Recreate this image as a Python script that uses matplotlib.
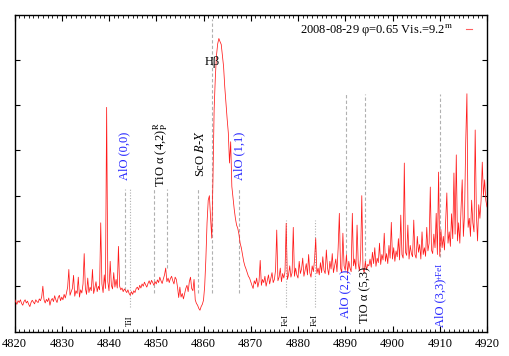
import numpy as np
import matplotlib
matplotlib.use("Agg")
import matplotlib.pyplot as plt

plt.rcParams['font.family'] = ['Liberation Serif', 'DejaVu Serif']
plt.rcParams['mathtext.fontset'] = 'stix'

# ---------------- data ----------------
wl_start, wl_step = 4820.0, 0.25
flux = [
    0.72,0.66,0.60,0.68,0.64,0.70,0.62,0.58,0.66,0.70,0.63,0.67,0.60,0.55,0.64,0.69,0.65,0.61,0.70,0.66,
    0.64,0.72,0.68,0.76,1.00,0.70,0.63,0.71,0.66,0.74,0.58,0.69,0.73,0.66,0.79,0.70,0.64,0.75,0.80,0.68,
    0.76,0.70,0.82,0.74,0.85,0.98,1.37,0.80,0.88,0.95,1.24,0.78,0.90,0.84,1.20,0.76,0.92,0.85,1.05,1.72,
    0.95,0.82,1.18,0.86,0.98,0.90,1.37,0.84,0.96,1.10,0.88,1.00,0.92,2.40,1.05,0.86,1.25,0.95,4.95,1.10,
    0.90,1.55,1.02,0.94,1.30,0.98,1.15,0.96,1.88,1.00,0.92,0.96,0.88,0.94,0.90,0.86,0.92,0.84,0.80,0.88,
    0.82,0.90,0.86,0.95,0.98,0.92,1.02,0.96,1.05,1.00,1.09,1.03,0.98,1.06,1.12,1.04,1.13,1.08,1.02,1.10,
    1.05,1.14,1.08,1.20,1.12,1.06,1.16,1.25,1.40,1.10,1.18,1.08,1.17,1.22,1.12,1.05,1.20,1.15,0.98,0.75,
    0.98,0.76,0.84,0.72,0.84,0.95,1.02,0.88,1.10,1.20,0.95,0.90,1.15,0.70,0.62,0.58,0.51,0.47,0.55,0.60,
    0.69,1.00,1.60,2.40,2.90,3.00,2.50,2.06,3.35,4.90,5.60,6.10,6.35,6.47,6.40,6.34,6.10,5.85,5.40,5.05,
    4.70,4.39,3.72,4.19,3.20,2.95,2.70,2.50,2.35,2.28,2.15,1.95,1.85,1.70,1.55,1.45,1.38,1.30,1.22,1.18,
    1.10,1.02,0.95,1.12,1.05,1.18,0.98,1.10,1.57,1.02,1.15,1.08,1.22,1.00,1.12,1.25,1.05,1.18,1.30,1.08,
    1.15,1.35,2.24,1.12,1.20,1.40,1.10,1.28,1.18,1.32,2.39,1.15,1.25,1.45,1.20,1.30,2.30,1.22,1.40,1.25,
    1.18,1.55,1.28,1.38,1.62,1.22,1.35,1.50,1.25,1.70,1.30,1.20,1.45,1.32,1.58,2.06,1.28,1.40,1.25,1.52,
    1.30,1.65,1.35,1.28,1.80,1.40,1.25,1.55,1.38,1.72,1.30,1.45,1.60,1.32,1.85,2.61,1.40,1.30,2.17,1.45,
    1.35,1.70,1.28,1.55,1.40,1.32,2.61,1.45,1.60,1.38,2.35,1.50,1.34,1.65,3.00,1.40,1.30,1.55,1.36,1.48,
    1.45,1.60,1.42,1.75,1.50,1.85,1.44,1.62,1.52,1.95,1.48,1.70,1.58,2.17,1.55,1.72,1.50,1.90,1.62,2.41,
    1.60,1.85,1.55,1.78,1.65,2.05,1.58,2.57,1.70,1.62,3.72,1.75,1.68,2.35,1.60,1.90,1.72,1.65,2.46,1.70,
    1.62,2.10,1.75,1.92,1.60,2.20,1.70,1.85,1.66,2.30,1.78,1.95,3.19,1.80,1.72,2.15,1.85,2.61,1.70,3.52,
    1.66,2.25,1.85,2.10,1.80,2.45,3.06,1.95,2.20,1.88,2.60,2.05,3.50,2.15,3.90,2.00,2.40,1.95,2.70,3.35,
    2.10,2.60,4.20,5.25,2.30,2.50,2.10,2.90,2.40,2.20,4.45,2.60,2.00,2.80,2.50,2.90,3.74,3.00,3.35,2.90,
    2.75,
]
wavelength = wl_start + wl_step * np.arange(len(flux))

legend_label = r'2008-08-29 φ=0.65 Vis.=9.2$^{\rm m}$'
xtick_values = list(range(4820, 4921, 10))

# marker lines: wavelength, y-top, y-bottom
dashed_wl  = [4843.4, 4849.5, 4852.3, 4858.9, 4861.9, 4867.5, 4890.2, 4894.25, 4910.1]
dashed_top = [3.15,   3.15,   3.15,   3.15,   6.89,   3.17,   5.25,   5.25,    5.25]
dashed_bot = [0.91,   0.85,   1.40,   0.84,   0.84,   0.84,   1.60,   1.42,    1.64]
dotted_wl  = [4844.4, 4877.5, 4883.6]
dotted_top = [3.15,   2.46,   2.46]
dotted_bot = [0.53,   0.53,   0.53]

# ---------------- figure ----------------
fig = plt.figure(figsize=(5.09, 3.56), dpi=100)
ax = fig.add_axes([14.5/509, 1-331.5/356, (487-14.5)/509, (331.5-14.5)/356])

for w, t, b in zip(dashed_wl, dashed_top, dashed_bot):
    ax.plot([w, w], [b, t], color='#b0b0b0', lw=0.8, dashes=(3, 2), zorder=1)
for w, t, b in zip(dotted_wl, dotted_top, dotted_bot):
    ax.plot([w, w], [b, t], color='#b0b0b0', lw=0.8, dashes=(1, 1.5), zorder=1)

ax.plot(wavelength, flux, color='#ff1a1a', lw=0.55, zorder=3, label=legend_label)

ax.set_xlim(4820, 4920)
ax.set_ylim(0, 7)
ax.set_xticks(xtick_values)
ax.set_xticks(np.arange(4820, 4921, 1), minor=True)
ax.set_yticks([1, 2, 3, 4, 5, 6])
ax.set_yticklabels([])
ax.tick_params(axis='both', which='both', direction='in', top=True, right=True)
ax.tick_params(axis='x', which='major', length=4, width=0.8, labelsize=9, pad=5)
ax.tick_params(axis='x', which='minor', length=2, width=0.6)
ax.tick_params(axis='y', which='major', length=3.5, width=0.8)
for s in ax.spines.values():
    s.set_linewidth(1.0)

leg = ax.legend(loc='upper right', frameon=False, markerfirst=False,
                handlelength=0.5, handletextpad=1.0, fontsize=9,
                bbox_to_anchor=(0.984, 1.0), borderaxespad=0.2)
for h in leg.get_lines():
    h.set_linewidth(0.8)
    h.set_color('#ff6060')

fs = 9
blue = '#2020ff'
ax.text(4843.3, 3.35, 'AlO (0,0)', rotation=90, ha='center', va='bottom', fontsize=fs, color=blue)
ax.text(4851.0, 3.19, r'TiO α (4,2)$^{\rm R}_{\rm P}$', rotation=90, ha='center', va='bottom', fontsize=fs, color='black')
ax.text(4859.3, 3.41, r'ScO $B$-$X$', rotation=90, ha='center', va='bottom', fontsize=fs, color='black')
ax.text(4867.6, 3.35, 'AlO (1,1)', rotation=90, ha='center', va='bottom', fontsize=fs, color=blue)
ax.text(4861.8, 5.96, 'Hβ', ha='center', va='center', fontsize=fs, color='black')
ax.text(4889.95, 0.29, 'AlO (2,2)', rotation=90, ha='center', va='bottom', fontsize=fs, color=blue)
ax.text(4894.2, 0.18, 'TiO α (5,3)', rotation=90, ha='center', va='bottom', fontsize=fs, color='black')
ax.text(4910.05, 0.09, 'AlO (3,3)', rotation=90, ha='center', va='bottom', fontsize=fs, color=blue)
ax.text(4910.05, 1.13, '+FeI', rotation=90, ha='center', va='bottom', fontsize=6.5, color=blue)
ax.text(4844.3, 0.13, 'TiI', rotation=90, ha='center', va='bottom', fontsize=6.5, color='black')
ax.text(4877.5, 0.13, 'FeI', rotation=90, ha='center', va='bottom', fontsize=6.5, color='black')
ax.text(4883.6, 0.13, 'FeI', rotation=90, ha='center', va='bottom', fontsize=6.5, color='black')

fig.savefig('out.png', dpi=100)
